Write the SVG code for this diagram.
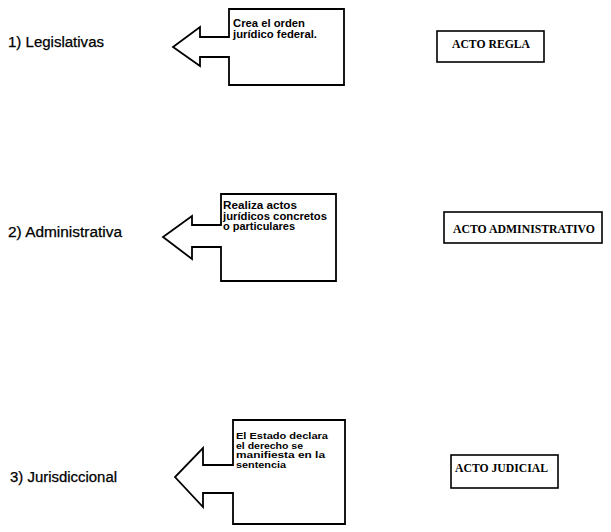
<svg xmlns="http://www.w3.org/2000/svg" width="611" height="532" viewBox="0 0 611 532">
<style>
.bg{fill:#fff}
.shape{fill:#fff;stroke:#000;stroke-width:1.8;stroke-linejoin:miter}
.box{fill:#fff;stroke:#000;stroke-width:1.6}
.lbl{font-family:"Liberation Sans",Arial,sans-serif;font-size:14px;fill:#000;stroke:#000;stroke-width:0.25}
.note{font-family:"Liberation Sans",Arial,sans-serif;font-size:10px;font-weight:bold;fill:#000}
.note3{font-family:"Liberation Sans",Arial,sans-serif;font-size:9px;font-weight:bold;fill:#000}
.act{font-family:"Liberation Serif","Times New Roman",serif;font-size:11.5px;font-weight:bold;fill:#000}
</style>
<rect class="bg" x="0" y="0" width="611" height="532"/>
<g id="connectors"/>
<g id="label1"><text class="lbl" x="8" y="47" textLength="96" lengthAdjust="spacingAndGlyphs">1) Legislativas</text></g>
<g id="label2"><text class="lbl" x="8" y="237" textLength="114" lengthAdjust="spacingAndGlyphs">2) Administrativa</text></g>
<g id="label3"><text class="lbl" x="10" y="482" textLength="107" lengthAdjust="spacingAndGlyphs">3) Jurisdiccional</text></g>
<g id="callout1">
<path class="shape" d="M229,9 L344,9 L344,85 L229,85 L229,57 L200,57 L200,66 L173,47 L200,27 L200,37 L229,37 Z"/>
<text class="note" x="233" y="27" textLength="72" lengthAdjust="spacingAndGlyphs">Crea el orden</text>
<text class="note" x="233" y="38" textLength="84" lengthAdjust="spacingAndGlyphs">jurídico federal.</text>
</g>
<g id="callout2">
<path class="shape" d="M221,194 L336,194 L336,281 L221,281 L221,247 L192,247 L192,259 L163,237 L192,216 L192,225 L221,225 Z"/>
<text class="note" x="223" y="209" textLength="74" lengthAdjust="spacingAndGlyphs">Realiza actos</text>
<text class="note" x="223" y="219.5" textLength="104" lengthAdjust="spacingAndGlyphs">jurídicos concretos</text>
<text class="note" x="223" y="230" textLength="72" lengthAdjust="spacingAndGlyphs">o particulares</text>
</g>
<g id="callout3">
<path class="shape" d="M233,420 L345,420 L345,524 L233,524 L233,493 L203,493 L203,507 L175,477 L203,448 L203,465 L233,465 Z"/>
<text class="note3" x="236" y="439" textLength="92" lengthAdjust="spacingAndGlyphs">El Estado declara</text>
<text class="note3" x="236" y="448.5" textLength="67" lengthAdjust="spacingAndGlyphs">el derecho se</text>
<text class="note3" x="236" y="458" textLength="89" lengthAdjust="spacingAndGlyphs">manifiesta en la</text>
<text class="note3" x="236" y="467.5" textLength="50" lengthAdjust="spacingAndGlyphs">sentencia</text>
</g>
<g id="acto-regla">
<rect class="box" x="437" y="31" width="107" height="31"/>
<text class="act" x="452" y="48" textLength="78" lengthAdjust="spacingAndGlyphs">ACTO REGLA</text>
</g>
<g id="acto-administrativo">
<rect class="box" x="444" y="212" width="158" height="31"/>
<text class="act" x="453" y="233" textLength="142" lengthAdjust="spacingAndGlyphs">ACTO ADMINISTRATIVO</text>
</g>
<g id="acto-judicial">
<rect class="box" x="451" y="455" width="107" height="33"/>
<text class="act" x="455" y="472" textLength="93" lengthAdjust="spacingAndGlyphs">ACTO JUDICIAL</text>
</g>
</svg>
